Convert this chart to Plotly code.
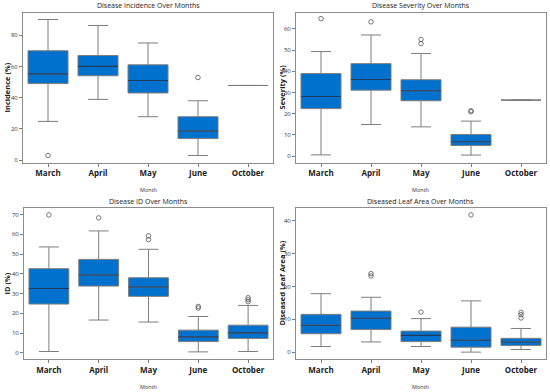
import plotly.graph_objects as go

months = ["March", "April", "May", "June", "October"]

# Disease Incidence (%)
inc_low = [24.8, 38.9, 27.8, 3.0, 47.8]
inc_q1 = [49.0, 54.0, 43.0, 13.8, 47.8]
inc_med = [55.2, 60.0, 51.0, 18.7, 47.8]
inc_q3 = [70.0, 67.0, 61.0, 27.8, 47.8]
inc_high = [90.0, 86.2, 75.0, 38.0, 47.8]
inc_out_month = ["March", "June"]
inc_out_val = [3.0, 52.9]

# Disease Severity (%)
sev_low = [0.6, 14.9, 13.8, 0.5, 26.4]
sev_q1 = [22.4, 31.1, 26.1, 5.0, 26.4]
sev_med = [28.1, 36.1, 30.8, 6.75, 26.4]
sev_q3 = [38.9, 43.6, 36.0, 10.2, 26.4]
sev_high = [49.3, 57.1, 48.4, 16.5, 26.4]
sev_out_month = ["March", "April", "May", "May", "June", "June"]
sev_out_val = [64.8, 63.3, 55.0, 53.0, 21.4, 20.9]

# Disease ID (%)
id_low = [0.7, 16.6, 15.6, 0.5, 0.7]
id_q1 = [24.7, 33.8, 28.6, 5.7, 7.3]
id_med = [32.6, 39.4, 33.3, 8.1, 10.1]
id_q3 = [42.6, 47.3, 38.0, 11.5, 14.0]
id_high = [53.6, 61.7, 52.4, 18.4, 24.0]
id_out_month = ["March", "April", "May", "May", "June", "June", "October", "October", "October"]
id_out_val = [69.8, 68.3, 59.2, 57.3, 23.5, 22.7, 27.9, 26.9, 25.9]

# Diseased Leaf Area (%)
dla_low = [1.7, 3.1, 1.7, 0.0, 0.8]
dla_q1 = [5.6, 6.9, 3.2, 1.5, 2.0]
dla_med = [8.2, 10.3, 5.1, 3.6, 3.1]
dla_q3 = [11.5, 12.5, 6.4, 7.6, 4.2]
dla_high = [17.8, 16.7, 10.2, 15.6, 7.2]
dla_out_month = ["April", "April", "May", "June", "October", "October", "October"]
dla_out_val = [23.9, 23.2, 12.2, 41.8, 12.1, 11.4, 10.4]

W, H = 550, 392
BLUE = "#0071CD"
GREY = "#7d7d7d"
MED = "#1f3a5f"
FONT = "Open Sans"

panels = [
    dict(title="Disease Incidence Over Months", ylabel="Incidence (%)",
         low=inc_low, q1=inc_q1, med=inc_med, q3=inc_q3, high=inc_high,
         om=inc_out_month, ov=inc_out_val, yr=[-1.5, 94.5], dt=20,
         px=(23, 273), py=(12.5, 162.5), lx=6),
    dict(title="Disease Severity Over Months", ylabel="Severity (%)",
         low=sev_low, q1=sev_q1, med=sev_med, q3=sev_q3, high=sev_high,
         om=sev_out_month, ov=sev_out_val, yr=[-3.0, 67.7], dt=10,
         px=(296, 546), py=(12.5, 162.5), lx=281),
    dict(title="Disease ID Over Months", ylabel="ID (%)",
         low=id_low, q1=id_q1, med=id_med, q3=id_q3, high=id_high,
         om=id_out_month, ov=id_out_val, yr=[-3.1, 73.3], dt=10,
         px=(24, 273), py=(208, 359), lx=6),
    dict(title="Diseased Leaf Area Over Months", ylabel="Diseased Leaf Area (%)",
         low=dla_low, q1=dla_q1, med=dla_med, q3=dla_q3, high=dla_high,
         om=dla_out_month, ov=dla_out_val, yr=[-2.1, 43.9], dt=10,
         px=(296, 546), py=(208, 359), lx=281),
]

fig = go.Figure()
annotations = []
layout_axes = {}

for k, p in enumerate(panels):
    sfx = "" if k == 0 else str(k + 1)
    xa, ya = "x" + sfx, "y" + sfx
    xs = list(range(len(months)))
    fig.add_trace(go.Box(
        x=xs, q1=p["q1"], median=p["med"], q3=p["q3"],
        lowerfence=p["low"], upperfence=p["high"],
        width=0.8, whiskerwidth=0.5, fillcolor=BLUE,
        line=dict(color=GREY, width=1), boxpoints=False,
        xaxis=xa, yaxis=ya, hoverinfo="skip"))
    mx, my = [], []
    for i, m in enumerate(p["med"]):
        if p["q3"][i] > p["q1"][i]:
            mx += [i - 0.4, i + 0.4, None]
            my += [m, m, None]
    fig.add_trace(go.Scatter(x=mx, y=my, mode="lines",
                             line=dict(color=MED, width=1.1),
                             xaxis=xa, yaxis=ya, hoverinfo="skip"))
    fig.add_trace(go.Scatter(
        x=[months.index(m) for m in p["om"]], y=p["ov"], mode="markers",
        marker=dict(symbol="circle-open", size=4.5, color="#555555",
                    line=dict(width=0.8)),
        xaxis=xa, yaxis=ya, hoverinfo="skip"))

    x0, x1 = p["px"][0] / W, p["px"][1] / W
    y0, y1 = 1 - p["py"][1] / H, 1 - p["py"][0] / H
    layout_axes["xaxis" + sfx] = dict(
        domain=[x0, x1], anchor=ya, range=[-0.5, 4.5],
        tickvals=xs, ticktext=months,
        tickfont=dict(family=FONT, size=8, color="#222222", weight="bold"),
        ticks="outside", ticklen=3, tickcolor=GREY,
        showline=True, mirror=True, linecolor="#8c8c8c", linewidth=1,
        showgrid=False, zeroline=False, automargin=False)
    layout_axes["yaxis" + sfx] = dict(
        domain=[y0, y1], anchor=xa, range=p["yr"], dtick=p["dt"], tick0=0,
        tickfont=dict(family=FONT, size=6, color="#333333"),
        ticks="outside", ticklen=3, tickcolor=GREY,
        showline=True, mirror=True, linecolor="#8c8c8c", linewidth=1,
        showgrid=False, zeroline=False, automargin=False)

    cx = (x0 + x1) / 2
    annotations.append(dict(text=p["title"], x=cx, y=1 - (p["py"][0] - 6.5) / H,
                            xref="paper", yref="paper", showarrow=False,
                            font=dict(family=FONT, size=7, color="#222222"),
                            xanchor="center", yanchor="middle"))
    annotations.append(dict(text="Month", x=cx, y=1 - (p["py"][1] + 27.5) / H,
                            xref="paper", yref="paper", showarrow=False,
                            font=dict(family=FONT, size=5.5, color="#333333"),
                            xanchor="center", yanchor="middle"))
    annotations.append(dict(text=p["ylabel"], x=p["lx"] / W, y=(y0 + y1) / 2,
                            xref="paper", yref="paper", showarrow=False,
                            textangle=-90,
                            font=dict(family=FONT, size=7.5, color="#222222",
                                      weight="bold"),
                            xanchor="center", yanchor="middle"))

fig.update_layout(width=W, height=H, margin=dict(l=0, r=0, t=0, b=0),
                  paper_bgcolor="white", plot_bgcolor="white",
                  showlegend=False, annotations=annotations, **layout_axes)

fig.write_html("out.html",
               config={"displayModeBar": False, "staticPlot": True},
               post_script="document.body.style.margin='0';"
                           "document.body.style.padding='0';"
                           "document.body.style.overflow='hidden';")
